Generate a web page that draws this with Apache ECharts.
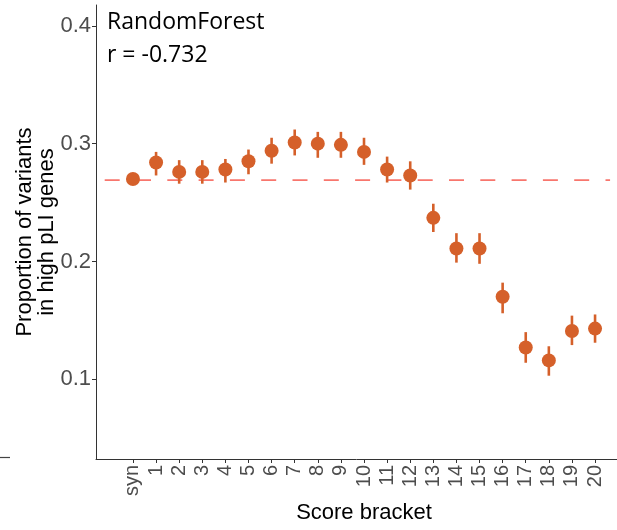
<!DOCTYPE html>
<html>
<head>
<meta charset="utf-8">
<script src="https://cdn.jsdelivr.net/npm/echarts@6/dist/echarts.min.js"></script>
<style>
  html, body { margin: 0; padding: 0; background: #fff; }
  #chart { width: 617px; height: 530px; }
</style>
</head>
<body>
<div id="chart"></div>
<script>
const categories = ['syn','1','2','3','4','5','6','7','8','9','10','11','12','13','14','15','16','17','18','19','20'];
const proportion = [0.270,0.284,0.276,0.276,0.278,0.285,0.294,0.301,0.300,0.299,0.293,0.278,0.273,0.237,0.211,0.211,0.170,0.127,0.116,0.141,0.143];
const lower =      [0.269,0.273,0.266,0.266,0.267,0.274,0.283,0.290,0.288,0.288,0.282,0.267,0.261,0.225,0.199,0.198,0.156,0.114,0.103,0.129,0.131];
const upper =      [0.271,0.293,0.286,0.286,0.287,0.295,0.305,0.312,0.310,0.310,0.305,0.289,0.285,0.249,0.224,0.224,0.182,0.140,0.128,0.154,0.155];
const baseline = 0.269;
const yTicks = [0.1, 0.2, 0.3, 0.4];
const xTicks = categories.map((c, i) => i);

const chart = echarts.init(document.getElementById('chart'), null, { renderer: 'canvas' });

const pointColor = '#D5602A';
const axisColor = '#333333';
const tickLabelColor = '#4D4D4D';

const option = {
  animation: false,
  backgroundColor: '#ffffff',
  grid: { left: 96, right: 0, top: 5, bottom: 71, containLabel: false },
  xAxis: {
    type: 'value',
    min: -1.6,
    max: 20.95,
    splitLine: { show: false },
    axisLine: { show: true, onZero: false, lineStyle: { color: axisColor, width: 1 } },
    axisTick: { show: true, customValues: xTicks, length: 4, lineStyle: { color: axisColor } },
    axisLabel: {
      customValues: xTicks,
      rotate: 90,
      margin: 6,
      fontSize: 20,
      fontFamily: 'Liberation Sans, Arial, sans-serif',
      color: tickLabelColor,
      formatter: v => categories[Math.round(v)]
    }
  },
  yAxis: {
    type: 'value',
    min: 0.0323,
    max: 0.4177,
    splitLine: { show: false },
    axisLine: { show: true, onZero: false, lineStyle: { color: axisColor, width: 1 } },
    axisTick: { show: true, customValues: yTicks, length: 4, lineStyle: { color: axisColor } },
    axisLabel: {
      customValues: yTicks,
      margin: 5,
      fontSize: 22,
      fontFamily: 'Liberation Sans, Arial, sans-serif',
      color: tickLabelColor,
      formatter: v => v.toFixed(1)
    }
  },
  series: [
    {
      type: 'line',
      data: [[-1.6, baseline], [20.65, baseline]],
      symbol: 'none',
      silent: true,
      z: 1,
      lineStyle: { color: '#F8766D', width: 1.8, type: [15, 16.3], dashOffset: 22.6 }
    },
    {
      type: 'custom',
      z: 2,
      data: categories.map((c, i) => [i, lower[i], upper[i]]),
      renderItem: function (params, api) {
        const x = api.value(0);
        const p1 = api.coord([x, api.value(1)]);
        const p2 = api.coord([x, api.value(2)]);
        return {
          type: 'line',
          shape: { x1: p1[0], y1: p1[1], x2: p2[0], y2: p2[1] },
          style: { stroke: pointColor, lineWidth: 2.6 }
        };
      }
    },
    {
      type: 'scatter',
      z: 3,
      data: categories.map((c, i) => [i, proportion[i]]),
      symbol: 'circle',
      symbolSize: 14,
      itemStyle: { color: pointColor, opacity: 1 }
    }
  ],
  graphic: [
    {
      type: 'text',
      left: 107,
      top: 6,
      style: {
        text: 'RandomForest\nr = -0.732',
        fontSize: 23,
        lineHeight: 33,
        fontFamily: 'Open Sans, sans-serif',
        fill: '#000000'
      }
    },
    {
      type: 'text',
      x: 36,
      y: 232,
      rotation: Math.PI / 2,
      style: {
        text: 'Proportion of variants\nin high pLI genes',
        fontSize: 22,
        lineHeight: 22,
        fontFamily: 'Liberation Sans, Arial, sans-serif',
        fill: '#000000',
        align: 'center',
        verticalAlign: 'middle'
      }
    },
    {
      type: 'text',
      x: 364,
      y: 513,
      style: {
        text: 'Score bracket',
        fontSize: 22,
        fontFamily: 'Liberation Sans, Arial, sans-serif',
        fill: '#000000',
        align: 'center',
        verticalAlign: 'middle'
      }
    },
    {
      type: 'line',
      shape: { x1: 0, y1: 457.5, x2: 10, y2: 457.5 },
      style: { stroke: '#444444', lineWidth: 1.2 }
    }
  ]
};
chart.setOption(option);
</script>
</body>
</html>
